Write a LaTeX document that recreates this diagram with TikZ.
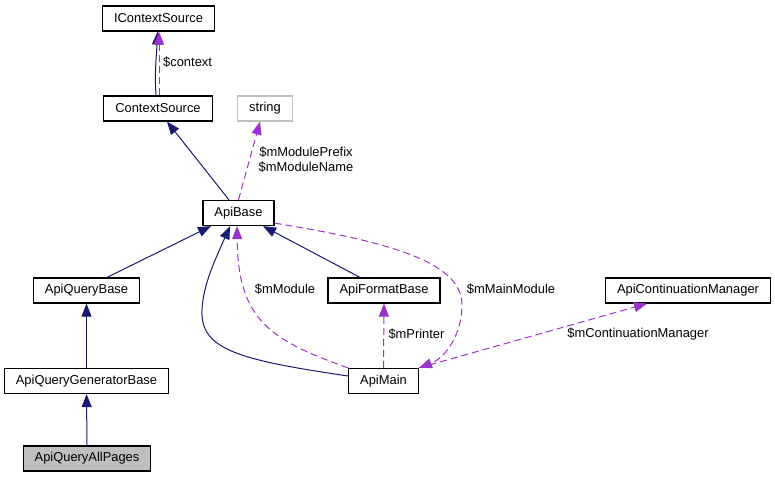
\documentclass[tikz,border=0pt]{standalone}
\usepackage{fontspec}
\setmainfont{Liberation Sans}
\usetikzlibrary{arrows.meta}
\definecolor{inhblue}{HTML}{191970}
\definecolor{usepurple}{HTML}{9A32CD}
\definecolor{boxgray}{HTML}{BFBFBF}

\begin{document}
\begin{tikzpicture}[x=1pt, y=-1pt,
  cls/.style={draw=black, line width=1.2pt, fill=white, minimum height=25pt, inner xsep=11.5pt, inner ysep=0pt, font=\fontsize{12.9}{15}\selectfont},
  lbl/.style={inner sep=0pt, font=\fontsize{12.9}{15}\selectfont, align=center},
  inh/.style={draw=inhblue, line width=1pt, -{Triangle[length=13pt,width=10pt]}},
  use/.style={draw=usepurple, line width=1pt, dash pattern=on 7pt off 4pt, -{Triangle[length=13pt,width=10pt]}}]
\useasboundingbox (0,0) rectangle (775,477);
% classes
\node[cls] (IContextSource) at (158.5,18.5) {IContextSource};
\node[cls] (ContextSource) at (158,108.5) {ContextSource};
\node[cls, draw=boxgray] (String) at (265,108.5) {string};
\node[cls] (ApiBase) at (238.5,213) {ApiBase};
\node[cls] (ApiQueryBase) at (86.5,290.5) {ApiQueryBase};
\node[cls] (ApiFormatBase) at (384,290.5) {ApiFormatBase};
\node[cls] (ApiContinuationManager) at (688,290.5) {ApiContinuationManager};
\node[cls] (ApiQueryGeneratorBase) at (86.5,381) {ApiQueryGeneratorBase};
\node[cls] (ApiMain) at (383.5,381) {ApiMain};
\node[cls, fill=boxgray] (ApiQueryAllPages) at (87,458.5) {ApiQueryAllPages};
%
% inheritance
\draw[inh] ([xshift=-2pt]ContextSource.north) .. controls +(-1.5,-25) and +(-1,25) .. ([xshift=-1pt]IContextSource.south);
\draw[inh] ([xshift=-9.5pt]ApiBase.north) -- ([xshift=9pt]ContextSource.south);
\draw[inh] ([xshift=20.5pt]ApiQueryBase.north) -- ([xshift=-27.5pt]ApiBase.south);
\draw[inh] ([yshift=5pt]ApiMain.west) .. controls (240,360) and (200,350) .. (202,310) .. controls (203,285) and (215,260) .. ([xshift=-8.5pt]ApiBase.south);
\draw[inh] ([xshift=-24pt]ApiFormatBase.north) -- ([xshift=24.5pt]ApiBase.south);
\draw[inh] (ApiQueryGeneratorBase) -- (ApiQueryBase);
\draw[inh] (ApiQueryAllPages) -- (ApiQueryGeneratorBase);
%
% members
\draw[use] ([xshift=1pt]ContextSource.north) -- ([xshift=0.5pt]IContextSource.south);
\draw[use] (ApiBase.north) -- ([xshift=-5pt]String.south);
\draw[use] (ApiMain.north west) .. controls (270,340) and (238,320) .. ([xshift=-1.5pt]ApiBase.south);
\draw[use] ([yshift=3pt]ApiBase.south east) .. controls (390,242) and (462,262) .. (462,305) .. controls (462,335) and (445,358) .. (ApiMain.north east);
\draw[use] (ApiMain.north) -- (ApiFormatBase.south);
\draw[use] (ApiMain.north east) -- ([xshift=-41pt]ApiContinuationManager.south);
%
\node[lbl, anchor=west] (lContext) at (163,62.5) {\$context};
\node[lbl] (lModuleName) at (306,160) {\$mModulePrefix\\\$mModuleName};
\node[lbl] (lModule) at (285,289.5) {\$mModule};
\node[lbl] (lMainModule) at (511,289.5) {\$mMainModule};
\node[lbl] (lPrinter) at (416.5,334.5) {\$mPrinter};
\node[lbl] (lContinuation) at (638,334.5) {\$mContinuationManager};
\end{tikzpicture}
\end{document}
